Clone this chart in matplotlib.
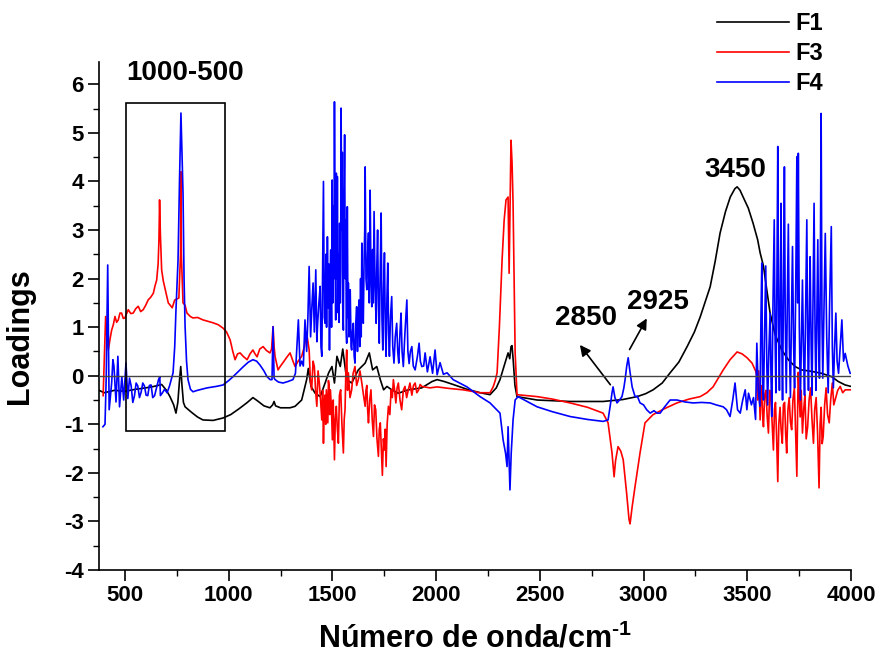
import matplotlib
matplotlib.use('Agg')
import matplotlib.pyplot as plt
from matplotlib.patches import Rectangle
from matplotlib.ticker import MultipleLocator

#%% Dados: (numero de onda, loadings)

f1 = [(375, -0.30), (400, -0.35), (450, -0.30), (500, -0.32), (550, -0.28), (600, -0.25),
      (640, -0.22), (677, -0.18), (700, -0.30), (717, -0.43), (735, -0.60), (746, -0.77),
      (755, -0.55), (763, -0.10), (769, 0.19), (775, -0.20), (782, -0.55), (790, -0.64),
      (820, -0.75), (850, -0.85), (876, -0.91), (925, -0.92), (973, -0.87), (1010, -0.80),
      (1050, -0.68), (1090, -0.55), (1117, -0.45), (1140, -0.52), (1170, -0.62), (1199, -0.66),
      (1212, -0.60), (1219, -0.53), (1226, -0.62), (1250, -0.66), (1296, -0.66), (1320, -0.63),
      (1352, -0.50), (1376, -0.08), (1384, 0.15), (1397, -0.22), (1417, -0.36), (1441, -0.43),
      (1465, -0.15), (1482, 0.06), (1498, 0.19), (1510, -0.15), (1522, 0.40), (1538, 0.19),
      (1550, 0.55), (1569, -0.08), (1593, -0.15), (1625, 0.12), (1658, 0.26), (1678, 0.47),
      (1694, 0.12), (1714, 0.19), (1731, -0.08), (1747, -0.29), (1763, -0.22), (1786, -0.29),
      (1818, -0.36), (1866, -0.29), (1931, -0.25), (1980, -0.12), (2005, -0.08), (2040, -0.12),
      (2082, -0.18), (2150, -0.28), (2212, -0.35), (2260, -0.39), (2290, -0.25), (2308, -0.08),
      (2332, 0.26), (2347, 0.47), (2355, 0.35), (2361, 0.60), (2366, 0.62), (2372, 0.30),
      (2380, -0.20), (2390, -0.43), (2487, -0.50), (2646, -0.53), (2805, -0.53), (2900, -0.49),
      (2969, -0.43), (3010, -0.37), (3046, -0.29), (3090, -0.15), (3128, 0.06), (3170, 0.28),
      (3210, 0.60), (3245, 0.90), (3273, 1.21), (3321, 1.83), (3345, 2.35), (3369, 2.94),
      (3395, 3.38), (3418, 3.68), (3440, 3.85), (3451, 3.89), (3465, 3.82), (3480, 3.68),
      (3505, 3.45), (3528, 3.14), (3550, 2.80), (3562, 2.53), (3578, 2.26), (3594, 1.77),
      (3610, 1.29), (3634, 0.85), (3666, 0.53), (3698, 0.33), (3730, 0.19), (3762, 0.12),
      (3810, 0.09), (3858, 0.05), (3907, -0.02), (3939, -0.12), (3972, -0.19), (4000, -0.22)]

f3 = [(395, -0.41), (400, 0.30), (407, 1.22), (413, 0.80), (420, 0.53), (428, 0.75), (436, 0.94),
      (444, 1.05), (452, 1.22), (460, 1.10), (468, 1.15), (476, 1.29), (484, 1.29), (492, 1.18),
      (500, 1.19), (508, 1.28), (516, 1.36), (528, 1.28), (540, 1.29), (552, 1.38), (564, 1.43),
      (576, 1.32), (588, 1.36), (600, 1.45), (612, 1.56), (625, 1.62), (637, 1.70), (645, 1.85),
      (653, 1.97), (660, 2.30), (664, 2.80), (667, 3.62), (671, 2.90), (677, 2.18), (685, 1.95),
      (693, 1.80), (709, 1.50), (728, 1.40), (740, 1.56), (760, 1.60), (768, 2.50), (770, 4.20),
      (772, 2.50), (780, 1.50), (790, 1.45), (799, 1.29), (815, 1.22), (828, 1.19), (850, 1.20),
      (876, 1.15), (900, 1.12), (925, 1.09), (950, 1.05), (973, 0.98), (990, 0.90), (1007, 0.74),
      (1020, 0.50), (1031, 0.33), (1043, 0.45), (1055, 0.47), (1070, 0.40), (1089, 0.33),
      (1103, 0.45), (1117, 0.53), (1127, 0.45), (1137, 0.39), (1150, 0.55), (1166, 0.60),
      (1182, 0.52), (1199, 0.47), (1207, 0.55), (1214, 1.01), (1219, 0.60), (1224, 0.39),
      (1238, 0.12), (1250, 0.20), (1262, 0.27), (1280, 0.38), (1296, 0.47), (1310, 0.30),
      (1320, 0.19), (1335, 0.30), (1352, 0.40), (1365, 0.60), (1376, 0.88), (1388, 0.53),
      (1394, -0.10), (1400, -0.29), (1407, 0.30), (1413, 0.19), (1419, -0.30), (1425, -0.63),
      (1431, 0.10), (1437, -0.15), (1443, -0.50), (1449, -0.91), (1453, -0.30), (1457, -1.39),
      (1461, -0.60), (1464, -0.40), (1468, -1.00), (1471, -0.29), (1475, -0.70), (1478, -0.97),
      (1481, -0.10), (1484, -0.20), (1487, -0.80), (1490, -0.29), (1495, -0.60), (1500, -1.32),
      (1504, -0.50), (1510, -1.73), (1514, -0.90), (1519, -0.63), (1524, -1.10), (1529, -1.39),
      (1534, -0.40), (1540, -0.29), (1546, -1.00), (1553, -1.59), (1557, -0.90), (1561, -0.70),
      (1565, 0.10), (1569, 0.53), (1573, -0.30), (1577, 0.06), (1585, -0.45), (1593, -0.29),
      (1600, 0.05), (1609, 0.19), (1617, -0.20), (1625, -0.08), (1633, 0.10), (1642, -0.15),
      (1650, -0.40), (1658, -0.63), (1662, -0.30), (1666, -0.20), (1670, -0.70), (1674, -0.97),
      (1680, -0.50), (1686, -0.29), (1692, -0.90), (1698, -1.25), (1703, -0.60), (1709, -0.70),
      (1715, -1.30), (1722, -1.66), (1726, -1.10), (1731, -0.97), (1736, -1.50), (1741, -2.05),
      (1746, -1.30), (1751, -1.53), (1755, -1.10), (1759, -1.87), (1764, -1.00), (1770, -0.63),
      (1777, -0.80), (1783, -0.29), (1789, -0.45), (1794, -0.08), (1800, -0.30), (1806, -0.56),
      (1812, -0.25), (1818, -0.15), (1826, -0.50), (1834, -0.70), (1842, -0.30), (1850, -0.22),
      (1858, -0.45), (1866, -0.29), (1874, -0.15), (1883, -0.40), (1891, -0.20), (1899, -0.15),
      (1907, -0.35), (1915, -0.30), (1923, -0.18), (1931, -0.22), (1970, -0.25), (2005, -0.23),
      (2060, -0.26), (2130, -0.29), (2212, -0.35), (2260, -0.35), (2275, -0.23), (2285, -0.10),
      (2294, 0.06), (2305, 1.00), (2318, 2.38), (2328, 3.20), (2337, 3.62), (2347, 3.68),
      (2352, 2.11), (2356, 3.40), (2361, 4.85), (2366, 4.40), (2371, 3.55), (2376, 2.00),
      (2381, 0.47), (2390, -0.39), (2487, -0.43), (2560, -0.48), (2646, -0.56), (2730, -0.65),
      (2805, -0.77), (2829, -0.97), (2848, -1.59), (2858, -2.08), (2865, -1.75), (2877, -1.46),
      (2890, -1.55), (2902, -1.73), (2918, -2.40), (2930, -2.96), (2935, -3.05), (2945, -2.70),
      (2959, -2.28), (2983, -1.59), (3007, -0.97), (3046, -0.80), (3100, -0.68), (3161, -0.56),
      (3220, -0.48), (3273, -0.43), (3305, -0.35), (3335, -0.23), (3360, -0.05), (3384, 0.12),
      (3417, 0.33), (3451, 0.49), (3475, 0.45), (3499, 0.37), (3523, 0.26), (3540, 0.10),
      (3546, 0.00), (3550, -0.50), (3555, 0.10), (3562, -0.91), (3566, -0.20), (3570, -0.36),
      (3574, -0.80), (3578, -1.05), (3584, -0.40), (3590, -0.30), (3596, -0.84), (3602, -1.18),
      (3608, -0.30), (3614, -0.45), (3620, -1.00), (3626, -1.53), (3631, -0.70), (3636, -0.55),
      (3641, -1.20), (3647, -2.18), (3652, -1.00), (3658, -0.65), (3663, -1.10), (3669, -1.39),
      (3674, -0.60), (3680, -0.55), (3685, -1.20), (3690, -1.59), (3696, -0.70), (3702, -0.45),
      (3708, -0.95), (3714, -1.11), (3720, -0.50), (3727, -0.25), (3733, -1.20), (3739, -2.07),
      (3743, -0.60), (3746, 0.07), (3750, -0.40), (3755, -0.85), (3760, -0.30), (3766, -1.18),
      (3772, -0.70), (3778, -0.40), (3784, -1.30), (3791, -1.05), (3798, -0.50), (3805, -0.25),
      (3812, -0.90), (3819, -1.39), (3825, -0.70), (3832, -0.45), (3839, -1.20), (3846, -2.31),
      (3851, -1.00), (3856, -0.65), (3861, -1.40), (3866, -1.25), (3873, -0.60), (3880, -0.25),
      (3887, -0.80), (3895, -0.97), (3902, -0.50), (3910, -0.15), (3917, -0.60), (3924, -0.49),
      (3936, -0.30), (3948, -0.22), (3960, -0.35), (3972, -0.29), (3996, -0.29)]

f4 = [(394, -1.05), (404, -1.00), (410, 0.00), (417, 2.28), (424, -0.70), (436, -0.15),
      (442, 0.33), (447, 0.20), (457, -0.54), (466, 0.40), (474, -0.64), (485, -0.02),
      (494, -0.50), (505, 0.26), (514, -0.47), (522, -0.05), (530, -0.21), (538, -0.55),
      (546, -0.41), (554, -0.15), (562, -0.21), (570, -0.45), (578, -0.34), (586, -0.15),
      (594, -0.21), (602, -0.40), (610, -0.41), (618, -0.20), (626, -0.19), (634, -0.45),
      (643, -0.41), (652, -0.25), (662, -0.08), (668, -0.02), (671, -0.41), (681, -0.35),
      (691, -0.28), (703, -0.35), (715, -0.21), (732, 0.06), (740, 0.60), (746, 1.35),
      (752, 2.00), (756, 2.38), (763, 4.00), (770, 5.41), (775, 4.60), (780, 3.76), (785, 2.00),
      (790, 1.01), (797, 0.30), (804, -0.08), (816, -0.28), (828, -0.33), (850, -0.30),
      (896, -0.25), (940, -0.22), (973, -0.19), (1000, -0.10), (1021, -0.02), (1045, 0.08),
      (1069, 0.18), (1095, 0.28), (1117, 0.33), (1135, 0.30), (1151, 0.22), (1170, 0.10),
      (1185, -0.02), (1200, -0.08), (1209, -0.08), (1214, 1.01), (1219, -0.05), (1224, -0.08),
      (1240, -0.13), (1262, -0.15), (1285, -0.12), (1310, -0.08), (1322, 0.05), (1336, 1.15),
      (1344, 0.20), (1352, 0.30), (1360, 0.20), (1368, 1.15), (1376, 0.50), (1382, 1.20),
      (1388, 2.25), (1395, 0.80), (1401, 1.40), (1407, 1.91), (1413, 0.90), (1420, 2.18),
      (1425, 0.70), (1429, 1.08), (1435, 1.50), (1441, 1.84), (1445, 0.60), (1449, 0.40),
      (1453, 2.20), (1457, 4.00), (1461, 1.20), (1465, 1.08), (1469, 2.50), (1472, 1.00),
      (1476, 2.86), (1480, 1.40), (1483, 2.30), (1486, 0.53), (1489, 2.00), (1492, 2.59),
      (1496, 1.00), (1499, 4.03), (1502, 1.50), (1505, 3.50), (1508, 2.00), (1510, 5.64),
      (1513, 2.50), (1516, 1.15), (1519, 4.17), (1522, 2.00), (1524, 4.10), (1527, 1.30),
      (1529, 2.50), (1532, 1.10), (1535, 3.14), (1538, 1.50), (1540, 2.20), (1542, 5.51),
      (1545, 3.00), (1548, 4.60), (1550, 1.40), (1553, 0.94), (1556, 3.50), (1559, 4.96),
      (1562, 2.00), (1565, 3.20), (1567, 0.90), (1569, 0.67), (1572, 3.48), (1575, 1.20),
      (1577, 1.91), (1580, 0.80), (1583, 1.60), (1586, 1.77), (1590, 0.60), (1593, 0.53),
      (1597, 0.90), (1601, 1.08), (1605, 0.40), (1609, 0.26), (1613, 1.10), (1617, 1.42),
      (1621, 0.50), (1625, 1.20), (1628, 1.56), (1632, 0.60), (1636, 2.00), (1639, 0.80),
      (1642, 2.73), (1646, 1.50), (1649, 1.08), (1653, 2.40), (1656, 3.00), (1658, 4.30),
      (1662, 2.00), (1666, 1.77), (1670, 2.50), (1674, 2.94), (1678, 1.50), (1682, 3.82),
      (1686, 2.00), (1690, 1.42), (1694, 2.60), (1697, 1.50), (1701, 3.38), (1706, 1.80),
      (1711, 1.08), (1714, 2.20), (1718, 3.00), (1722, 1.50), (1726, 0.67), (1730, 2.00),
      (1735, 3.35), (1739, 1.20), (1743, 0.53), (1747, 1.80), (1751, 2.53), (1755, 1.00),
      (1759, 0.40), (1763, 1.60), (1767, 2.32), (1771, 0.90), (1775, 0.40), (1780, 1.20),
      (1786, 1.63), (1791, 0.60), (1797, 0.26), (1803, 0.80), (1810, 1.08), (1815, 0.50),
      (1820, 0.26), (1826, 0.90), (1831, 1.29), (1836, 0.50), (1842, 0.19), (1850, 0.90),
      (1859, 1.56), (1864, 0.50), (1870, 0.25), (1876, 0.50), (1883, 0.60), (1890, 0.20),
      (1899, 0.12), (1910, 0.40), (1918, 0.67), (1924, 0.30), (1931, 0.19), (1940, 0.20),
      (1947, 0.47), (1958, 0.08), (1971, 0.39), (1983, 0.05), (1995, 0.53), (2005, 0.02),
      (2019, 0.27), (2035, 0.03), (2053, 0.06), (2082, -0.08), (2149, -0.23), (2212, -0.43),
      (2260, -0.56), (2308, -0.77), (2323, -1.32), (2335, -1.60), (2342, -1.87), (2347, -1.05),
      (2352, -1.80), (2356, -2.35), (2362, -1.60), (2371, -0.91), (2381, -0.50), (2395, -0.43),
      (2487, -0.64), (2560, -0.74), (2646, -0.84), (2730, -0.90), (2805, -0.94), (2829, -0.91),
      (2840, -0.60), (2848, -0.35), (2853, -0.23), (2862, -0.45), (2872, -0.56), (2884, -0.50),
      (2896, -0.43), (2905, -0.25), (2911, -0.08), (2919, 0.20), (2926, 0.37), (2934, 0.10),
      (2945, -0.23), (2959, -0.43), (2970, -0.42), (2983, -0.56), (3000, -0.60), (3015, -0.70),
      (3032, -0.77), (3050, -0.72), (3065, -0.77), (3080, -0.77), (3100, -0.65), (3128, -0.50),
      (3161, -0.50), (3200, -0.54), (3239, -0.56), (3280, -0.55), (3321, -0.56), (3350, -0.60),
      (3384, -0.64), (3400, -0.70), (3417, -0.84), (3430, -0.50), (3441, -0.15), (3453, -0.70),
      (3466, -0.77), (3478, -0.50), (3490, -0.29), (3498, -0.70), (3506, -0.36), (3520, -0.60),
      (3530, -0.45), (3540, -0.90), (3546, 0.67), (3553, -0.30), (3561, -0.63), (3566, 1.20),
      (3570, 2.32), (3574, -0.20), (3578, -0.50), (3584, 1.00), (3589, 2.26), (3594, 0.30),
      (3598, -0.60), (3604, 0.50), (3610, 1.29), (3614, 0.10), (3618, -0.84), (3624, 1.50),
      (3630, 3.21), (3634, 0.80), (3638, -0.35), (3643, 2.00), (3647, 4.72), (3651, 1.00),
      (3655, -0.30), (3659, 1.80), (3663, 3.55), (3667, 0.50), (3670, -0.50), (3675, 2.00),
      (3679, 4.30), (3683, 1.20), (3688, -0.35), (3693, 1.50), (3698, 3.12), (3703, 0.60),
      (3708, -0.45), (3713, 1.20), (3718, 2.66), (3723, 0.70), (3728, -0.25), (3734, 2.00),
      (3739, 4.51), (3743, 1.50), (3746, 4.58), (3751, 1.00), (3756, -0.50), (3761, 0.80),
      (3766, 1.97), (3771, 0.50), (3776, -0.40), (3782, 1.50), (3787, 3.21), (3791, 0.80),
      (3795, -0.30), (3799, 1.20), (3803, 2.45), (3808, 0.60), (3812, -0.40), (3817, 1.60),
      (3822, 3.55), (3827, 0.80), (3831, -0.30), (3836, 1.50), (3840, 2.80), (3844, 0.70),
      (3848, -0.05), (3852, 2.00), (3856, 5.40), (3860, 1.20), (3864, -0.05), (3870, 1.40),
      (3876, 2.93), (3883, 0.80), (3890, -0.35), (3897, 1.50), (3905, 3.07), (3910, 0.60),
      (3915, -0.25), (3921, 0.60), (3927, 1.29), (3933, 0.30), (3940, 0.05), (3948, 0.60),
      (3956, 1.15), (3964, 0.30), (3972, 0.46), (3985, 0.20), (3996, 0.05)]

series = [('F1', f1, 'black'), ('F3', f3, '#ff0000'), ('F4', f4, '#0000ff')]

# anotacoes (texto, posicao do centro)
labels = ['2850', '2925', '3450']
label_pos = [(2723, 1.19), (3070, 1.52), (3442, 4.24)]
setas = [((2848, -0.23), (2685, 0.68)), ((2926, 0.49), (3022, 1.23))]  # (cauda, ponta)

#%% Figura

plt.rcParams['font.family'] = 'Liberation Sans'
plt.rcParams['font.weight'] = 'bold'
plt.rcParams['axes.unicode_minus'] = False
plt.rcParams['mathtext.fontset'] = 'custom'
plt.rcParams['mathtext.rm'] = 'Liberation Sans:bold'
plt.rcParams['mathtext.bf'] = 'Liberation Sans:bold'

fig = plt.figure(figsize=(8.84, 6.59), dpi=100)
ax = fig.add_axes([99/884, 1 - 570/659, (851 - 99)/884, (570 - 62)/659])

for nome, dados, cor in series:
    xs = [p[0] for p in dados]
    ys = [p[1] for p in dados]
    ax.plot(xs, ys, color=cor, lw=1.2, label=nome)

# linha do zero
ax.axhline(0, color='#444444', lw=1.0, zorder=5)

ax.set_xlim(375, 4000)
ax.set_ylim(-4, 6.46)

ax.spines['top'].set_visible(False)
ax.spines['right'].set_visible(False)
for s in ['left', 'bottom']:
    ax.spines[s].set_linewidth(1.2)

ax.xaxis.set_major_locator(MultipleLocator(500))
ax.xaxis.set_minor_locator(MultipleLocator(250))
ax.yaxis.set_major_locator(MultipleLocator(1))
ax.yaxis.set_minor_locator(MultipleLocator(0.5))
ax.tick_params(which='major', direction='out', length=8, width=1.2, labelsize=16, pad=3)
ax.tick_params(which='minor', direction='out', length=4, width=1.0)
ax.set_xticks(range(500, 4001, 500))

ax.set_xlabel('Número de onda/cm$^{\u20101}$', fontsize=22, fontweight='bold', labelpad=12)
ax.set_ylabel('Loadings', fontsize=22, fontweight='bold')
ax.yaxis.set_label_coords(-0.085, 0.46)

# caixa 1000-500
ax.add_patch(Rectangle((505, -1.13), 982 - 505, 5.61 + 1.13, fill=False,
                       edgecolor='black', lw=1.2, zorder=6))
ax.text(790, 6.23, '1000-500', fontsize=20, fontweight='bold', ha='center', va='center',
        clip_on=False)

for t, (x, y) in zip(labels, label_pos):
    ax.text(x, y, t, fontsize=20, fontweight='bold', ha='center', va='center')

for cauda, ponta in setas:
    ax.annotate('', xy=ponta, xytext=cauda,
                arrowprops=dict(arrowstyle='-|>', color='black', lw=1.2, mutation_scale=16))

ax.legend(loc='upper left', bbox_to_anchor=(717/884, 1 - 12/659), bbox_transform=fig.transFigure,
          frameon=False, fontsize=17, borderpad=0, borderaxespad=0, handlelength=3.05,
          handletextpad=0.25, labelspacing=0.3)

fig.savefig('out.png', dpi=100)
